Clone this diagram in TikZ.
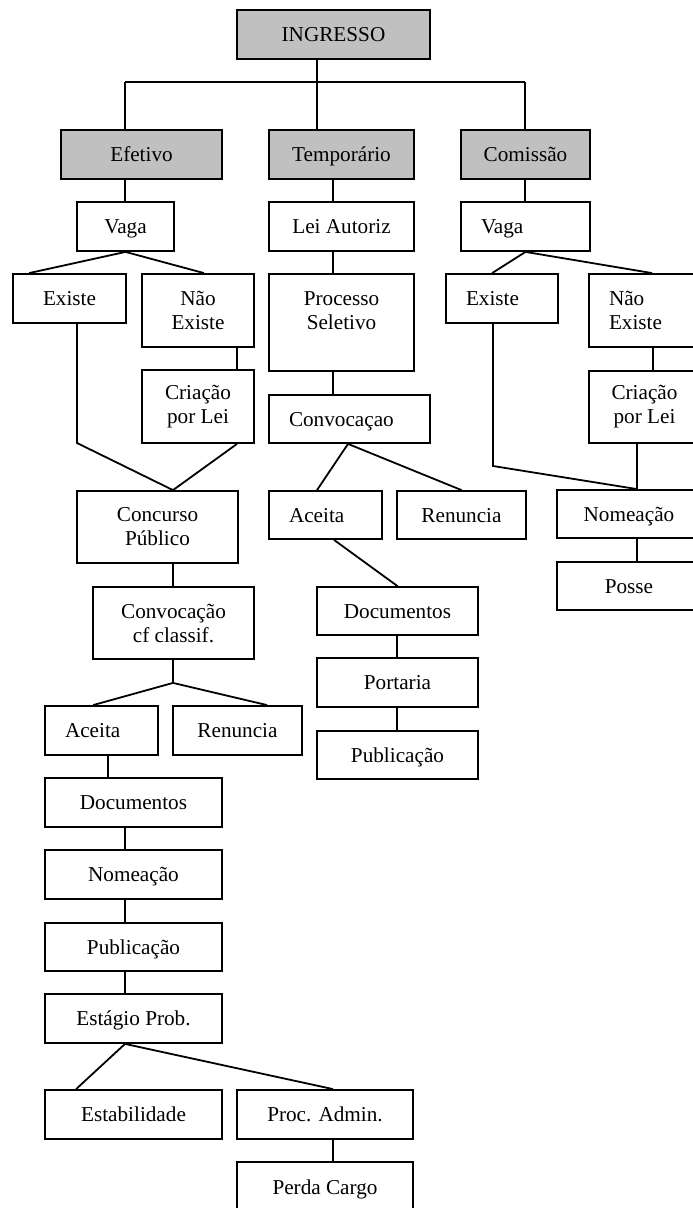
\documentclass[tikz,border=0pt]{standalone}
\usepackage{fontspec}
\setmainfont{Liberation Serif}
\usetikzlibrary{calc}
\definecolor{boxgray}{RGB}{192,192,192}
\newcommand\fsz{\fontsize{21.2pt}{24pt}\selectfont}
\begin{document}
\begin{tikzpicture}[x=1pt,y=-1pt,
  bx/.style={draw, line width=1.8pt, inner sep=0pt, font=\fsz, align=center},
  gry/.style={bx, fill=boxgray},
  one/.style={text height=14pt, text depth=0pt},
  lft/.style={align=left, inner xsep=20pt},
  ln/.style={line width=1.8pt}]
\clip (0,0) rectangle (693,1208);
% level 0-1
\node[gry,one,minimum width=193pt,minimum height=49pt] (ingresso) at (333.5,34.5) {INGRESSO};
\node[gry,one,minimum width=161pt,minimum height=49pt] (efetivo) at (141.5,154.5) {Efetivo};
\node[gry,one,minimum width=145pt,minimum height=49pt] (temp) at (341.5,154.5) {Temporário};
\node[gry,one,minimum width=129pt,minimum height=49pt] (comissao) at (525.5,154.5) {Comissão};
% level 2
\node[bx,one,minimum width=97pt,minimum height=49pt] (vaga1) at (125.5,226.5) {Vaga};
\node[bx,one,minimum width=145pt,minimum height=49pt] (lei) at (341.5,226.5) {Lei Autoriz};
\node[bx,one,lft,text width=89pt,minimum height=49pt] (vaga2) at (525.5,226.5) {Vaga};
% level 3
\node[bx,one,minimum width=113pt,minimum height=49pt] (existe1) at (69.5,298.5) {Existe};
\node[bx,minimum width=112pt,minimum height=73pt] (naoex1) at (198,310.5) {Não\\Existe};
\node[bx,minimum width=145pt,minimum height=97pt] (processo) at (341.5,322.5) {Processo\\Seletivo\\~};
\node[bx,one,lft,text width=72pt,minimum height=49pt] (existe2) at (502,298.5) {Existe};
\node[bx,lft,text width=71pt,minimum height=73pt] (naoex2) at (644.5,310.5) {Não\\Existe};
% level 4
\node[bx,minimum width=112pt,minimum height=73pt] (criacao1) at (198,406.5) {Criação\\por Lei};
\node[bx,one,lft,text width=121pt,minimum height=48pt] (convoc) at (349.5,419) {Convocaçao};
\node[bx,minimum width=111pt,minimum height=72pt] (criacao2) at (644.5,407) {Criação\\por Lei};
% level 5
\node[bx,minimum width=161pt,minimum height=72pt] (concurso) at (157.5,527) {Concurso\\Público};
\node[bx,one,lft,text width=73pt,minimum height=48pt] (aceita2) at (325.5,515) {Aceita};
\node[bx,one,minimum width=129pt,minimum height=48pt] (renuncia2) at (461.5,515) {Renuncia};
\node[bx,one,minimum width=144pt,minimum height=48pt] (nomeacao2) at (629,514) {Nomeação};
\node[bx,one,minimum width=144pt,minimum height=48pt] (posse) at (629,586) {Posse};
% level 6+
\node[bx,minimum width=161pt,minimum height=72pt] (convcf) at (173.5,623) {Convocação\\cf classif.};
\node[bx,one,minimum width=161pt,minimum height=48pt] (docs2) at (397.5,611) {Documentos};
\node[bx,one,minimum width=161pt,minimum height=49pt] (portaria) at (397.5,682.5) {Portaria};
\node[bx,one,minimum width=161pt,minimum height=48pt] (pub2) at (397.5,755) {Publicação};
\node[bx,one,lft,text width=73pt,minimum height=49pt] (aceita1) at (101.5,730.5) {Aceita};
\node[bx,one,minimum width=129pt,minimum height=49pt] (renuncia1) at (237.5,730.5) {Renuncia};
\node[bx,one,minimum width=177pt,minimum height=49pt] (docs1) at (133.5,802.5) {Documentos};
\node[bx,one,minimum width=177pt,minimum height=49pt] (nomeacao1) at (133.5,874.5) {Nomeação};
\node[bx,one,minimum width=177pt,minimum height=48pt] (pub1) at (133.5,947) {Publicação};
\node[bx,one,minimum width=177pt,minimum height=49pt] (estagio) at (133.5,1018.5) {Estágio Prob.};
\node[bx,one,minimum width=177pt,minimum height=49pt] (estab) at (133.5,1114.5) {Estabilidade};
\node[bx,one,minimum width=176pt,minimum height=49pt] (procadm) at (325,1114.5) {Proc. Admin.};
\node[bx,one,minimum width=176pt,minimum height=50pt] (perda) at (325,1187) {Perda Cargo};
% helper coordinates
\coordinate (busL) at (125,82);
\coordinate (busM) at (317,82);
\coordinate (busR) at (525,82);
\coordinate (xT) at (333,0);
\coordinate (xN1) at (237,0);
\coordinate (xN2) at (653,0);
\coordinate (xC) at (637,0);
\coordinate (xA) at (108,0);
\coordinate (xL) at (125,0);
\coordinate (xP) at (333,0);
\coordinate (xK) at (173,0);
\coordinate (xD) at (397,0);
\coordinate (bendE1) at (77,443);
\coordinate (bendE2) at (493,466);
\coordinate (cvB) at ($(convoc.south)+(-1.5,0)$);
\coordinate (fan2) at ($(xK |- convcf.south)+(0,23)$);
% connectors
\draw[ln] (ingresso.south -| busM) -- (busM);
\draw[ln] (busL) -- (busR);
\draw[ln] (busL) -- (busL |- efetivo.north);
\draw[ln] (busM) -- (busM |- temp.north);
\draw[ln] (busR) -- (busR |- comissao.north);
\draw[ln] (xL |- efetivo.south) -- (xL |- vaga1.north);
\draw[ln] (xT |- temp.south) -- (xT |- lei.north);
\draw[ln] (busR |- comissao.south) -- (busR |- vaga2.north);
\draw[ln] ($(existe1.north west)+(17,0)$) -- (vaga1.south) -- ($(naoex1.north)+(6,0)$);
\draw[ln] ($(existe2.north west)+(47,0)$) -- (vaga2.south) -- ($(naoex2.north west)+(64,0)$);
\draw[ln] (xT |- lei.south) -- (xT |- processo.north);
\draw[ln] (xT |- processo.south) -- (xT |- convoc.north);
\draw[ln] (bendE1 |- existe1.south) -- (bendE1) -- ($(concurso.north)+(15.5,0)$);
\draw[ln] (xN1 |- naoex1.south) -- (xN1 |- criacao1.north);
\draw[ln] (xN1 |- criacao1.south) -- ($(concurso.north)+(15.5,0)$);
\draw[ln] ($(aceita2.north)+(-8.5,0)$) -- (cvB) -- (renuncia2.north);
\draw[ln] (bendE2 |- existe2.south) -- (bendE2) -- (xC |- nomeacao2.north);
\draw[ln] (xN2 |- naoex2.south) -- (xN2 |- criacao2.north);
\draw[ln] (xC |- criacao2.south) -- (xC |- nomeacao2.north);
\draw[ln] (xC |- nomeacao2.south) -- (xC |- posse.north);
\draw[ln] ($(aceita2.south)+(8.5,0)$) -- (docs2.north);
\draw[ln] (xD |- docs2.south) -- (xD |- portaria.north);
\draw[ln] (xD |- portaria.south) -- (xD |- pub2.north);
\draw[ln] (xK |- concurso.south) -- (xK |- convcf.north);
\draw[ln] (xK |- convcf.south) -- (fan2);
\draw[ln] ($(aceita1.north west)+(49,0)$) -- (fan2) -- ($(renuncia1.north west)+(95,0)$);
\draw[ln] (xA |- aceita1.south) -- (xA |- docs1.north);
\draw[ln] (xL |- docs1.south) -- (xL |- nomeacao1.north);
\draw[ln] (xL |- nomeacao1.south) -- (xL |- pub1.north);
\draw[ln] (xL |- pub1.south) -- (xL |- estagio.north);
\draw[ln] ($(estab.north west)+(32,0)$) -- (xL |- estagio.south) -- ($(procadm.north)+(8,0)$);
\draw[ln] (xP |- procadm.south) -- (xP |- perda.north);
\end{tikzpicture}
\end{document}
